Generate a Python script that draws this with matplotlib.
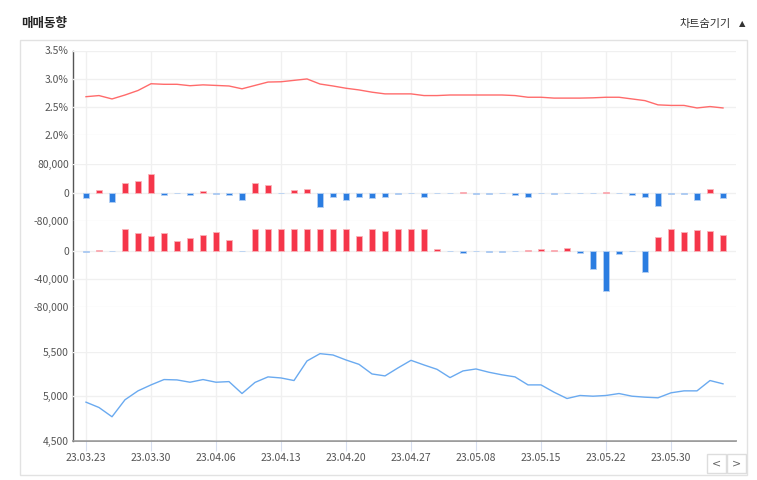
import matplotlib
matplotlib.use("Agg")
import matplotlib.pyplot as plt
from matplotlib.patches import Rectangle

plt.rcParams['font.family'] = ['Noto Sans CJK KR', 'DejaVu Sans']

# 거래일 (50일)
dates = [
    "23.03.23", "23.03.24", "23.03.27", "23.03.28", "23.03.29",
    "23.03.30", "23.03.31", "23.04.03", "23.04.04", "23.04.05",
    "23.04.06", "23.04.07", "23.04.10", "23.04.11", "23.04.12",
    "23.04.13", "23.04.14", "23.04.17", "23.04.18", "23.04.19",
    "23.04.20", "23.04.21", "23.04.24", "23.04.25", "23.04.26",
    "23.04.27", "23.04.28", "23.05.02", "23.05.03", "23.05.04",
    "23.05.08", "23.05.09", "23.05.10", "23.05.11", "23.05.12",
    "23.05.15", "23.05.16", "23.05.17", "23.05.18", "23.05.19",
    "23.05.22", "23.05.23", "23.05.24", "23.05.25", "23.05.26",
    "23.05.30", "23.05.31", "23.06.01", "23.06.02", "23.06.05",
]

# 비율 (%)
rate_pct = [
    2.68, 2.70, 2.64, 2.71, 2.79, 2.91, 2.90, 2.90, 2.875, 2.89,
    2.88, 2.87, 2.82, 2.88, 2.94, 2.945, 2.97, 2.995, 2.905, 2.87,
    2.83, 2.80, 2.76, 2.73, 2.73, 2.73, 2.70, 2.70, 2.71, 2.71,
    2.71, 2.71, 2.71, 2.70, 2.67, 2.67, 2.655, 2.655, 2.655, 2.66,
    2.67, 2.67, 2.64, 2.61, 2.535, 2.525, 2.525, 2.48, 2.505, 2.48,
]

# 순매수 1
net_a = [
    -14000, 6500, -27000, 27000, 34000, 53000, -7500, 0, -7000, 4700,
    -3800, -7500, -20000, 27000, 21700, 0, 6600, 11300, -40500, -12300,
    -20000, -12300, -15000, -12300, -3500, 0, -12300, 0, 0, 2800,
    -2800, -3500, 0, -6600, -12300, 0, -3800, 0, 0, 0,
    2800, 0, -6600, -12300, -37700, -3500, -3500, -20000, 11300, -15000,
]

# 순매수 2
net_b = [
    -2400, 1400, 0, 30500, 24800, 21000, 24800, 13300, 18600, 22400,
    26200, 14800, 0, 30500, 30500, 30500, 31400, 30500, 31400, 30500,
    30500, 21000, 31400, 28600, 31400, 30500, 31400, 1900, 0, -2900,
    0, -1900, -1900, 0, 1000, 2900, 1000, 4300, -3800, -25700,
    -58100, -5200, 0, -31000, 19500, 31400, 27100, 30000, 28600, 22400,
]

# 주가
close_price = [
    4933, 4873, 4769, 4960, 5060, 5127, 5187, 5183, 5157, 5187,
    5157, 5164, 5030, 5155, 5217, 5205, 5176, 5396, 5478, 5463,
    5407, 5358, 5250, 5228, 5318, 5403, 5351, 5302, 5209, 5284,
    5306, 5269, 5240, 5217, 5127, 5127, 5045, 4974, 5008, 5000,
    5008, 5030, 5000, 4989, 4982, 5038, 5060, 5060, 5176, 5139,
]

W, H = 757, 480
RED = '#f5364a'
BLUE = '#2b7de1'
GRID = '#f0f0f0'
TXT = '#555555'


def box(x0, y0, x1, y1):
    return [x0 / W, 1 - y1 / H, (x1 - x0) / W, (y1 - y0) / H]


fig = plt.figure(figsize=(W / 100, H / 100), dpi=100)

# 외곽 테두리
fig.patches.append(Rectangle((20 / W, 1 - 475 / H), 727 / W, 435 / H,
                             transform=fig.transFigure, fill=False,
                             edgecolor='#e2e2e2', lw=1))

fig.text(21 / W, 1 - 23 / H, "매매동향", fontsize=9, fontweight='bold',
         color='#222222', va='center', ha='left')
fig.text(731 / W, 1 - 24 / H, "차트숨기기", fontsize=8, color='#333333',
         va='center', ha='right')
fig.text(742 / W, 1 - 24 / H, "▲", fontsize=6, color='#333333',
         va='center', ha='center', family=['DejaVu Sans'])

# 이전/다음 버튼
for x0, ch in [(707, "<"), (727, ">")]:
    fig.patches.append(Rectangle((x0 / W, 1 - 473 / H), 19 / W, 19 / H,
                                 transform=fig.transFigure, fill=False,
                                 edgecolor='#dddddd', lw=1))
    fig.text((x0 + 9.5) / W, 1 - 463.5 / H, ch, fontsize=8, color='#666666',
             va='center', ha='center', family=['DejaVu Sans'])

x = list(range(len(dates)))
XMIN, XMAX = -1, 50

# 배경 축: 세로 그리드, x 라벨
bg = fig.add_axes(box(73, 50.5, 736, 440.7))
bg.set_xlim(XMIN, XMAX)
bg.set_ylim(0, 1)
bg.set_yticks([])
bg.set_xticks(x[::5])
bg.set_xticklabels(dates[::5])
bg.grid(axis='x', color=GRID, lw=1)
bg.tick_params(axis='x', length=7, color='#d8dff0', labelsize=7.5,
               labelcolor=TXT, pad=1.5)
for s in ['top', 'right']:
    bg.spines[s].set_visible(False)
bg.spines['left'].set_color('#555555')
bg.spines['left'].set_linewidth(1)
bg.spines['bottom'].set_color('#8a8a8a')
bg.spines['bottom'].set_linewidth(1.2)


def panel(rect, ylim, ticks, labels):
    ax = fig.add_axes(rect)
    ax.patch.set_visible(False)
    for s in ax.spines.values():
        s.set_visible(False)
    ax.set_xlim(XMIN, XMAX)
    ax.set_ylim(*ylim)
    ax.set_xticks([])
    ax.set_yticks(ticks)
    ax.set_yticklabels(labels)
    ax.tick_params(axis='y', length=0, labelsize=7.5, labelcolor=TXT, pad=3)
    ax.grid(axis='y', color=GRID, lw=1)
    ax.set_axisbelow(True)
    return ax


ax1 = panel(box(73, 50.5, 736, 135), (2.0, 3.5),
            [2.0, 2.5, 3.0, 3.5], ["2.0%", "2.5%", "3.0%", "3.5%"])
ax1.plot(x, rate_pct, color='#ff6b6b', lw=1)

ax2 = panel(box(73, 164.3, 736, 221), (-80000, 80000),
            [-80000, 0, 80000], ["-80,000", "0", "80,000"])
c2 = [RED if v > 0 else BLUE for v in net_a]
e2 = ['#fbb3b9' if v > 0 else '#b5d0f3' for v in net_a]
ax2.bar(x, net_a, width=0.45, color=c2, edgecolor=e2, lw=0.6, clip_on=False)

ax3 = panel(box(73, 222.7, 736, 306.7), (-80000, 40000),
            [-80000, -40000, 0], ["-80,000", "-40,000", "0"])
c3 = [RED if v > 0 else BLUE for v in net_b]
e3 = ['#fbb3b9' if v > 0 else '#b5d0f3' for v in net_b]
ax3.bar(x, net_b, width=0.45, color=c3, edgecolor=e3, lw=0.6, clip_on=False)

ax4 = panel(box(73, 351.7, 736, 440.7), (4500, 5500),
            [4500, 5000, 5500], ["4,500", "5,000", "5,500"])
ax4.plot(x, close_price, color='#6aaaf0', lw=1, clip_on=False)

fig.savefig("out.png", dpi=100)
